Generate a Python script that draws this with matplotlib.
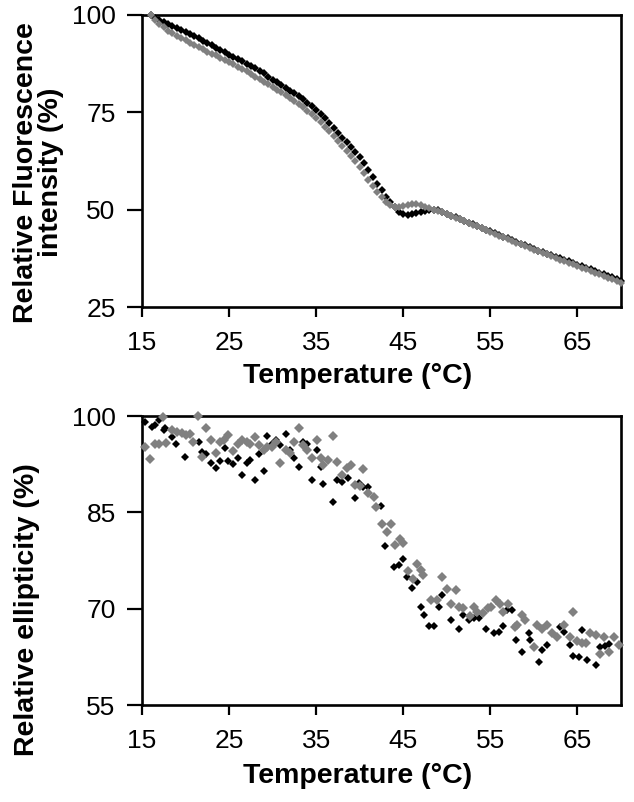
import numpy as np
import matplotlib
matplotlib.use("Agg")
import matplotlib.pyplot as plt

plt.rcParams['font.family'] = ['Liberation Sans', 'DejaVu Sans']

# --- top panel: fluorescence, sampled every 0.5 degC from 16 to 70
temp_fl = np.arange(16, 70.01, 0.5)
fl_black = [100.0, 99.3, 98.7, 98.2, 97.6, 97.1, 96.6, 96.1, 95.6, 95.0,
            94.5, 94.0, 93.3, 92.8, 92.2, 91.6, 91.0, 90.4, 89.8, 89.2,
            88.8, 88.1, 87.5, 86.9, 86.3, 85.6, 85.0, 84.2, 83.4, 82.7,
            82.0, 81.3, 80.6, 79.9, 79.1, 78.3, 77.5, 76.6, 75.7, 74.6,
            73.5, 72.3, 71.1, 69.8, 68.5, 67.4, 66.2, 64.9, 63.6, 62.0,
            60.3, 58.5, 56.7, 55.0, 53.3, 51.9, 50.6, 49.5, 48.8, 48.7,
            48.9, 49.1, 49.3, 49.6, 49.9, 50.0, 49.9, 49.4, 48.9, 48.5,
            48.0, 47.6, 47.1, 46.6, 46.2, 45.8, 45.3, 44.8, 44.4, 43.9,
            43.4, 43.0, 42.6, 42.1, 41.7, 41.2, 40.8, 40.3, 39.9, 39.5,
            39.1, 38.7, 38.3, 37.9, 37.5, 37.1, 36.7, 36.3, 35.9, 35.5,
            35.1, 34.7, 34.3, 33.8, 33.4, 33.0, 32.6, 32.1, 31.7]
fl_gray = [100.0, 98.8, 97.6, 96.8, 96.0, 95.3, 94.7, 94.1, 93.5, 92.9,
           92.4, 91.8, 91.2, 90.6, 90.1, 89.6, 89.0, 88.5, 87.9, 87.3,
           86.7, 86.1, 85.5, 84.9, 84.2, 83.5, 82.9, 82.2, 81.5, 80.8,
           80.1, 79.4, 78.6, 77.9, 77.1, 76.3, 75.4, 74.5, 73.5, 72.4,
           71.3, 70.1, 68.8, 67.6, 66.3, 65.0, 63.7, 62.4, 61.0, 59.4,
           57.7, 56.0, 54.5, 53.2, 52.0, 51.1, 50.6, 50.6, 50.9, 51.2,
           51.4, 51.5, 51.2, 50.8, 50.4, 50.0, 49.7, 49.3, 48.8, 48.3,
           47.9, 47.5, 47.0, 46.5, 46.1, 45.7, 45.2, 44.7, 44.3, 43.8,
           43.3, 42.9, 42.4, 42.0, 41.5, 41.1, 40.6, 40.2, 39.7, 39.3,
           38.9, 38.5, 38.0, 37.6, 37.2, 36.8, 36.4, 36.0, 35.5, 35.1,
           34.7, 34.3, 33.8, 33.4, 32.9, 32.5, 32.1, 31.6, 31.2]

# --- bottom panel: ellipticity (scattered)
cd_black_t = [15.3, 16.1, 16.5, 16.9, 17.5, 17.6, 18.4, 18.9, 19.9, 21.5,
              21.9, 22.4, 22.9, 23.5, 24.0, 24.5, 24.9, 25.4, 26.0, 26.5,
              27.0, 27.4, 28.0, 28.4, 29.0, 29.4, 29.9, 30.4, 30.9, 31.5,
              32.0, 32.5, 33.0, 33.5, 33.9, 34.5, 35.1, 35.5, 35.8, 36.9,
              37.4, 38.0, 38.7, 39.5, 39.9, 40.4, 41.0, 42.4, 42.9, 43.9,
              44.5, 45.0, 45.4, 46.0, 46.6, 47.0, 47.4, 47.9, 48.5, 49.1,
              49.4, 50.5, 51.4, 51.9, 52.5, 53.1, 53.7, 54.5, 55.4, 56.0,
              56.5, 56.9, 57.5, 58.0, 58.6, 59.4, 59.6, 60.6, 60.9, 61.5,
              63.0, 63.5, 64.1, 64.5, 65.2, 65.5, 66.1, 67.1, 67.6, 68.2,
              68.6]
cd_black = [99.0, 98.3, 98.6, 99.4, 97.8, 98.1, 96.8, 95.6, 93.6, 96.0,
            94.4, 94.1, 92.7, 91.9, 93.0, 95.1, 93.0, 92.6, 93.4, 90.8,
            92.7, 93.1, 90.0, 94.1, 91.5, 96.9, 95.7, 96.2, 95.5, 97.2,
            94.7, 93.4, 92.0, 96.0, 95.7, 90.0, 94.7, 92.1, 89.4, 86.6,
            90.0, 89.8, 90.3, 87.2, 89.6, 89.0, 89.0, 86.0, 79.8, 76.5,
            76.8, 77.7, 74.9, 73.3, 74.2, 70.2, 69.0, 67.3, 67.3, 70.2,
            72.1, 68.3, 66.8, 69.0, 68.3, 68.5, 68.6, 66.8, 66.2, 66.4,
            67.3, 69.8, 69.8, 65.2, 63.3, 66.2, 65.1, 61.7, 63.6, 64.4,
            67.2, 66.4, 64.3, 62.6, 62.5, 66.7, 62.0, 61.3, 64.1, 64.2,
            64.5]
cd_gray_t = [15.3, 15.9, 16.5, 16.9, 17.4, 17.8, 18.4, 19.0, 19.6, 20.1,
             20.5, 20.9, 21.4, 21.9, 22.4, 22.9, 23.5, 24.0, 24.4, 24.9,
             25.4, 26.0, 26.5, 27.0, 27.4, 28.0, 28.4, 29.0, 29.4, 29.9,
             30.4, 30.9, 31.5, 32.0, 32.5, 33.0, 33.5, 33.9, 34.5, 35.1,
             35.5, 35.8, 36.4, 36.9, 37.4, 38.0, 38.5, 39.0, 39.5, 40.0,
             40.4, 41.0, 41.6, 41.9, 42.6, 43.1, 43.6, 44.0, 44.6, 45.0,
             45.5, 46.1, 46.6, 47.0, 47.3, 48.2, 48.9, 49.4, 50.0, 50.5,
             51.1, 51.4, 51.9, 52.7, 53.1, 53.5, 54.2, 54.7, 55.1, 55.6,
             56.1, 56.5, 57.0, 57.8, 58.1, 58.6, 59.0, 60.0, 60.4, 60.9,
             61.5, 62.1, 62.7, 63.4, 64.1, 64.5, 65.0, 65.5, 66.0, 66.4,
             67.1, 67.6, 68.0, 68.6, 69.2, 69.8]
cd_gray = [95.2, 93.3, 95.7, 95.7, 99.8, 95.8, 97.8, 97.5, 97.3, 97.0,
           97.2, 96.0, 100.0, 93.7, 98.1, 96.3, 94.2, 96.0, 96.3, 97.0,
           94.5, 95.7, 96.3, 96.0, 95.7, 96.7, 95.5, 94.7, 95.2, 95.2,
           96.0, 92.7, 94.7, 94.2, 96.0, 98.2, 95.5, 94.7, 93.4, 96.2,
           93.4, 92.4, 93.2, 96.9, 92.9, 90.8, 91.9, 92.4, 89.3, 89.1,
           91.7, 88.0, 87.4, 85.9, 83.2, 82.0, 83.2, 79.9, 80.8, 80.3,
           75.8, 74.7, 77.0, 76.1, 75.2, 71.4, 71.4, 75.0, 73.0, 70.7,
           72.9, 70.2, 70.1, 68.8, 70.3, 69.5, 69.3, 70.1, 70.3, 71.4,
           70.8, 69.5, 70.8, 67.2, 67.5, 69.0, 68.2, 64.1, 67.5, 66.8,
           67.5, 66.2, 65.6, 67.5, 65.6, 69.5, 64.9, 64.6, 64.7, 66.2,
           65.9, 63.0, 65.6, 63.3, 65.6, 64.3]

xticks = [15, 25, 35, 45, 55, 65]
gray = '#808080'
tick_fs = 19
label_fs = 20.5

fig = plt.figure(figsize=(6.34, 8.02), dpi=100)
ax1 = fig.add_axes([0.224, 0.6172, 0.7555, 0.3641])
ax2 = fig.add_axes([0.224, 0.1209, 0.7555, 0.3603])

ax1.plot(temp_fl, fl_black, 'D', color='black', ms=3.8, mew=0, clip_on=False, zorder=3)
ax1.plot(temp_fl, fl_gray, 'D', color=gray, ms=3.9, mew=0, clip_on=False, zorder=3)

ax2.plot(cd_black_t, cd_black, 'D', color='black', ms=4.2, mew=0, clip_on=False, zorder=3)
ax2.plot(cd_gray_t, cd_gray, 'D', color=gray, ms=5.6, mew=0, clip_on=False, zorder=4)

ax1.set_ylim(25, 100)
ax1.set_yticks([25, 50, 75, 100])
ax2.set_ylim(55, 100)
ax2.set_yticks([55, 70, 85, 100])

for ax in (ax1, ax2):
    ax.set_xlim(15, 70)
    ax.set_xticks(xticks)
    for s in ax.spines.values():
        s.set_linewidth(1.9)
    ax.tick_params(axis='both', direction='out', width=1.6,
                   labelsize=tick_fs, colors='black')
    ax.tick_params(axis='x', length=7, pad=10)
    ax.tick_params(axis='y', length=11, pad=8)
    ax.set_xlabel('Temperature (°C)', fontsize=label_fs, fontweight='bold', va='center')

ax1.xaxis.set_label_coords(0.449, -0.236)
ax2.xaxis.set_label_coords(0.449, -0.246)

ax1.set_ylabel('Relative Fluorescence\nintensity (%)', fontsize=label_fs,
               fontweight='bold', va='center', linespacing=0.95)
ax1.yaxis.set_label_coords(-0.217, 0.462)
ax2.set_ylabel('Relative ellipticity (%)', fontsize=label_fs, fontweight='bold', va='center')
ax2.yaxis.set_label_coords(-0.240, 0.329)

fig.savefig('out.png', dpi=100)
